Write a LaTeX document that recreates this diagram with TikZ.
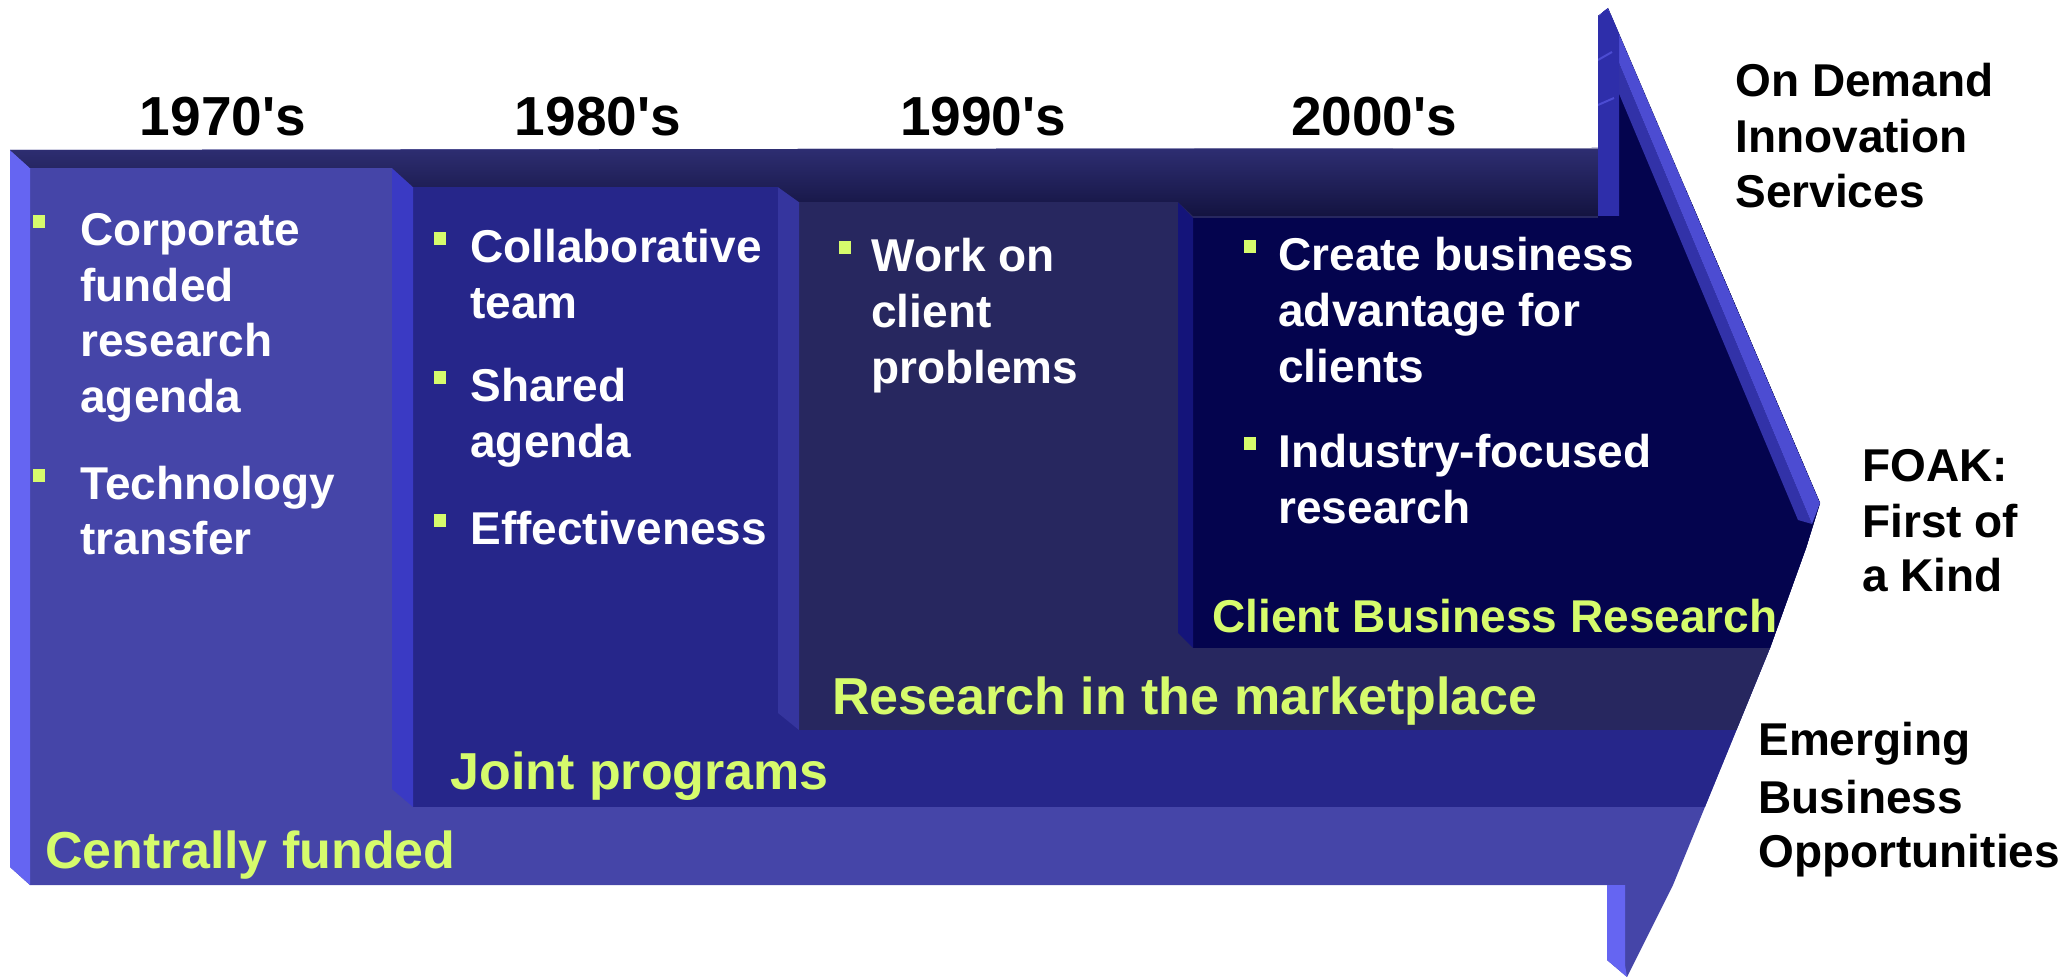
\documentclass[tikz,border=0pt]{standalone}
\usepackage{fontspec}
\setmainfont{Liberation Sans}
\definecolor{labelyellow}{HTML}{D6FB6C}
\definecolor{layerone}{HTML}{4545A8}
\definecolor{leftface}{HTML}{6565F2}
\definecolor{layertwo}{HTML}{26268A}
\definecolor{beveltwo}{HTML}{3A3AC4}
\definecolor{layerthree}{HTML}{27275F}
\definecolor{bevelthree}{HTML}{35359E}
\definecolor{layerfour}{HTML}{04044E}
\definecolor{bevelfour}{HTML}{14147A}
\definecolor{bandtop}{HTML}{2E2E72}
\definecolor{bandbot}{HTML}{131340}
\definecolor{headback}{HTML}{2E2EAA}
\definecolor{stripein}{HTML}{3232A8}
\definecolor{stripeout}{HTML}{4C4CD2}
\newcommand\decade[1]{#1\textquotesingle s}
\begin{document}
\begin{tikzpicture}[x=0.5pt,y=-0.5pt,
  body/.style={anchor=base west,inner sep=0pt,text=white,font=\bfseries\fontsize{23}{27}\selectfont},
  year/.style={anchor=base,inner sep=0pt,text=black,font=\bfseries\fontsize{27.5}{32}\selectfont},
  era/.style={anchor=base west,inner sep=0pt,text=labelyellow,font=\bfseries\fontsize{26}{30}\selectfont},
  erasmall/.style={era,font=\bfseries\fontsize{23}{27}\selectfont},
  side/.style={anchor=base west,inner sep=0pt,text=black,font=\bfseries\fontsize{23}{27}\selectfont},
  bulletbox/.style={fill=labelyellow,minimum width=6pt,minimum height=6.5pt,inner sep=0pt,outer sep=0pt}]
\useasboundingbox (0,0) rectangle (2061,977);

% ---- the 3D arrow ----
\begin{scope}
  \clip (10,150) -- (1598,148) -- (1598,16) -- (1608,8) -- (1820,503)
        -- (1806,548) -- (1770,648) -- (1673,885) -- (1627,977)
        -- (1607,960) -- (1607,885) -- (30,885) -- (10,867) -- cycle;
  % base slab
  \fill[layerone] (0,0) rectangle (2061,977);
  \fill[leftface] (10,150) -- (30,168) -- (30,885) -- (10,867) -- cycle;
  \fill[leftface] (1607,885) -- (1625,885) -- (1625,965) -- (1627,977) -- (1607,960) -- cycle;
  % second slab
  \fill[layertwo] (413,187) rectangle (2061,807);
  \fill[beveltwo] (392,168) -- (413,187) -- (413,807) -- (392,789) -- cycle;
  % third slab
  \fill[layerthree] (799,202) rectangle (2061,730);
  \fill[bevelthree] (778,187) -- (799,202) -- (799,730) -- (778,713) -- cycle;
  % fourth slab
  \fill[layerfour] (1193,218) rectangle (2061,648);
  \fill[bevelfour] (1178,202) -- (1193,218) -- (1193,648) -- (1178,633) -- cycle;
  \fill[layerfour] (1598,0) rectangle (2061,218);
  % top faces
  \shade[top color=bandtop,bottom color=bandbot]
    (10,148) -- (1598,148) -- (1598,216) -- (1193,216) -- (1178,202)
    -- (799,202) -- (778,187) -- (413,187) -- (392,168) -- (30,168)
    -- (10,150) -- cycle;
  % lit edge of the arrow head
  \fill[stripein] (1596,8) -- (1812,524) -- (1798,520) -- (1583,8) -- cycle;
  \fill[stripeout] (1608,8) -- (1820,503) -- (1812,524) -- (1596,8) -- cycle;
  % back face of the arrow head
  \fill[headback] (1598,18) -- (1606,8) -- (1619,24) -- (1619,216) -- (1598,216) -- cycle;
  \draw[stripeout,line width=1pt] (1598,60) -- (1612,52);
  \draw[stripeout,line width=1pt] (1598,105) -- (1614,98);
  \draw[color=bandtop!60!white,line width=1pt] (10,148.5) -- (1598,148.5);
\end{scope}

% ---- decade headings ----
\node[year] (y70) at (223,136) {\decade{1970}};
\node[year] (y80) at (598,136) {\decade{1980}};
\node[year] (y90) at (983,136) {\decade{1990}};
\node[year] (y00) at (1374,136) {\decade{2000}};

% ---- 1970's ----
\node[bulletbox] (b1a) at (39,222) {};
\node[body] (t1a) at (80,246) {Corporate};
\node[body] (t1b) at (80,301.5) {funded};
\node[body] (t1c) at (80,357) {research};
\node[body] (t1d) at (80,412.5) {agenda};
\node[bulletbox] (b1b) at (39,476) {};
\node[body] (t1e) at (80,500) {Technology};
\node[body] (t1f) at (80,555) {transfer};

% ---- 1980's ----
\node[bulletbox] (b2a) at (440,239) {};
\node[body] (t2a) at (470,263) {Collaborative};
\node[body] (t2b) at (470,319) {team};
\node[bulletbox] (b2b) at (440,378) {};
\node[body] (t2c) at (470,402) {Shared};
\node[body] (t2d) at (470,458) {agenda};
\node[bulletbox] (b2c) at (440,521) {};
\node[body] (t2e) at (470,545) {Effectiveness};

% ---- 1990's ----
\node[bulletbox] (b3a) at (845,248) {};
\node[body] (t3a) at (871,272) {Work on};
\node[body] (t3b) at (871,328) {client};
\node[body] (t3c) at (871,384) {problems};

% ---- 2000's ----
\node[bulletbox] (b4a) at (1250,247) {};
\node[body] (t4a) at (1278,271) {Create business};
\node[body] (t4b) at (1278,327) {advantage for};
\node[body] (t4c) at (1278,383) {clients};
\node[bulletbox] (b4b) at (1250,444) {};
\node[body] (t4d) at (1278,468) {Industry-focused};
\node[body] (t4e) at (1278,524) {research};

% ---- slab labels ----
\node[era] (l1) at (45,868) {Centrally funded};
\node[era] (l2) at (450,790) {Joint programs};
\node[era] (l3) at (832,715) {Research in the marketplace};
\node[erasmall] (l4) at (1212,633) {Client Business Research};

% ---- outcomes ----
\node[side] (s1a) at (1735,97) {On Demand};
\node[side] (s1b) at (1735,153) {Innovation};
\node[side] (s1c) at (1735,208) {Services};
\node[side] (s2a) at (1862,482) {FOAK:};
\node[side] (s2b) at (1862,538) {First of};
\node[side] (s2c) at (1862,592) {a Kind};
\node[side] (s3a) at (1758,755) {Emerging};
\node[side] (s3b) at (1758,813) {Business};
\node[side] (s3c) at (1758,867) {Opportunities};
\end{tikzpicture}
\end{document}
